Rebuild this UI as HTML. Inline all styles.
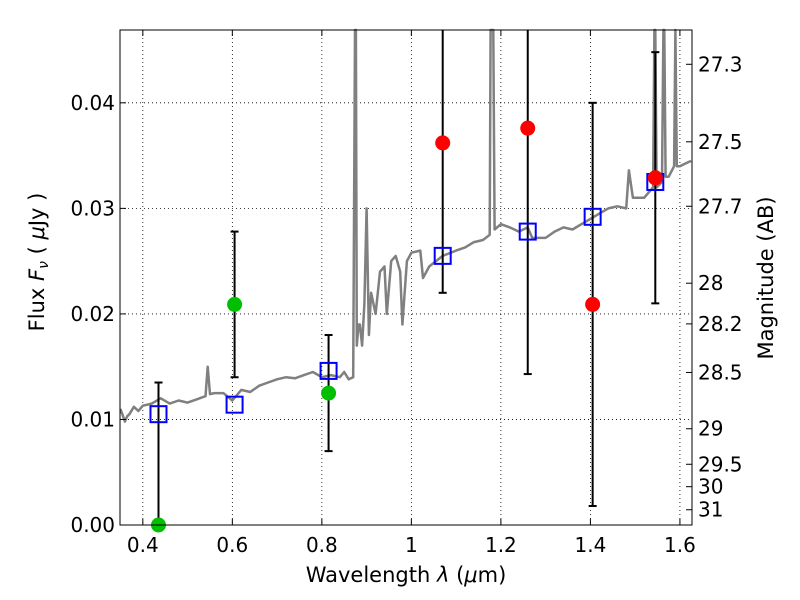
<!DOCTYPE html>
<html><head><meta charset="utf-8"><style>
html,body{margin:0;background:#fff;width:800px;height:600px;overflow:hidden;}
svg{display:block;}
svg text{font-family:"DejaVu Sans","Liberation Sans",sans-serif;}
</style></head><body>
<svg id="chart" width="800" height="600" xmlns="http://www.w3.org/2000/svg">
<text x="406" y="582" font-size="21" text-anchor="middle">Wavelength  <tspan font-style="italic">λ</tspan> (<tspan font-style="italic">μ</tspan>m)</text>
<text transform="translate(44,262) rotate(-90)" font-size="21" text-anchor="middle">Flux  <tspan font-style="italic">F</tspan><tspan font-style="italic" font-size="14" dy="4">ν</tspan><tspan dy="-4">  ( </tspan><tspan font-style="italic">μ</tspan>Jy )</text>
<text transform="translate(773,278) rotate(-90)" font-size="21" text-anchor="middle">Magnitude (AB)</text>
</svg>
<script>
const specW=[0.35,0.355,0.36,0.365,0.37,0.38,0.39,0.40,0.42,0.44,0.46,0.48,0.50,0.52,0.54,0.545,0.55,0.56,0.58,0.60,0.62,0.64,0.66,0.68,0.70,0.72,0.74,0.76,0.78,0.80,0.82,0.84,0.85,0.86,0.870,0.874,0.876,0.878,0.882,0.885,0.89,0.895,0.90,0.905,0.91,0.92,0.93,0.94,0.945,0.955,0.965,0.975,0.98,0.99,1.00,1.02,1.026,1.04,1.07,1.10,1.12,1.14,1.16,1.175,1.177,1.18,1.183,1.186,1.20,1.22,1.24,1.26,1.27,1.30,1.32,1.34,1.36,1.38,1.40,1.42,1.44,1.46,1.48,1.486,1.495,1.52,1.54,1.543,1.545,1.548,1.56,1.563,1.565,1.568,1.575,1.587,1.59,1.593,1.60,1.61,1.625];
const specF=[0.0110,0.0104,0.0098,0.0103,0.0105,0.0112,0.0108,0.0113,0.0115,0.0120,0.0115,0.0118,0.0116,0.0119,0.0122,0.0150,0.0124,0.0125,0.0125,0.0118,0.0128,0.0126,0.0132,0.0135,0.0138,0.0140,0.0139,0.0142,0.0145,0.0140,0.0142,0.0140,0.0145,0.0138,0.0140,0.0600,0.0600,0.0170,0.0190,0.0190,0.0170,0.0210,0.0300,0.0180,0.0220,0.0200,0.0240,0.0245,0.0200,0.0250,0.0255,0.0240,0.0190,0.0250,0.0258,0.0260,0.0234,0.0245,0.0255,0.0260,0.0263,0.0268,0.0270,0.0275,0.0600,0.0600,0.0600,0.0280,0.0285,0.0282,0.0278,0.0282,0.0272,0.0272,0.0278,0.0282,0.0280,0.0285,0.0290,0.0295,0.0300,0.0302,0.0300,0.0336,0.0310,0.0310,0.0320,0.0600,0.0600,0.0320,0.0325,0.0600,0.0600,0.0330,0.0330,0.0340,0.0600,0.0340,0.0340,0.0342,0.0345];
const bandW=[0.435,0.605,0.815,1.07,1.26,1.405,1.545];
const modelF=[0.0105,0.0114,0.0146,0.0255,0.0278,0.0292,0.0325];
const obsF=[0.0,0.0209,0.0125,0.0362,0.0376,0.0209,0.0329];
const obsErr=[0.0135,0.0069,0.0055,0.0142,0.0233,0.0191,0.0119];
const obsColor=['#00bf00','#00bf00','#00bf00','red','red','red','red'];
const xTicks=[0.4,0.6,0.8,1.0,1.2,1.4,1.6];
const xTickLabels=['0.4','0.6','0.8','1','1.2','1.4','1.6'];
const yTicks=[0,0.01,0.02,0.03,0.04];
const yTickLabels=['0.00','0.01','0.02','0.03','0.04'];
const magTicks=[27.3,27.5,27.7,28,28.2,28.5,29,29.5,30,31];

const L=120,R=692,T=30,B=525,XMIN=0.349,XMAX=1.627,YMIN=0,YMAX=0.0469;
const X=w=>L+(w-XMIN)/(XMAX-XMIN)*(R-L);
const Y=f=>B-(f-YMIN)/(YMAX-YMIN)*(B-T);
const Yc=f=>Math.max(T,Math.min(B,Y(f)));
const NS='http://www.w3.org/2000/svg';
const svg=document.getElementById('chart');
function mk(tag,attrs,parent){const e=document.createElementNS(NS,tag);for(const k in attrs)e.setAttribute(k,attrs[k]);(parent||svg).appendChild(e);return e;}

xTicks.forEach(v=>{const g=mk('line',{x1:X(v),x2:X(v),y1:T,y2:B,stroke:'#000','stroke-width':0.8,'stroke-dasharray':'1,3'});

});
yTicks.forEach(v=>{const g=mk('line',{x1:L,x2:R,y1:Y(v),y2:Y(v),stroke:'#000','stroke-width':0.8,'stroke-dasharray':'1,3'});

});

const plot=mk('g',{});


let d='';specW.forEach((w,i)=>{d+=(i?'L':'M')+X(w).toFixed(1)+','+Yc(specF[i]).toFixed(1);});
const sp=mk('path',{d:d,fill:'none',stroke:'#808080','stroke-width':2.5,'stroke-linejoin':'round'},plot);



bandW.forEach((w,i)=>{
  const x=X(w);
  const loV=obsF[i]-obsErr[i],hiV=obsF[i]+obsErr[i];
  const lo=Yc(loV),hi=Yc(hiV);
  const eb=mk('line',{x1:x,x2:x,y1:lo,y2:hi,stroke:'#000','stroke-width':2},plot);
  
  
  [[loV,lo],[hiV,hi]].forEach(p=>{ if(p[0]<YMIN||p[0]>YMAX) return;
  const c=mk('line',{x1:x-4,x2:x+4,y1:p[1],y2:p[1],stroke:'#000','stroke-width':2},plot);
  
  });
  const sq=mk('rect',{x:x-8,y:Y(modelF[i])-8,width:16,height:16,fill:'none',stroke:'#0000ff','stroke-width':2},plot);
  
  
  const dot=mk('circle',{cx:x,cy:Y(obsF[i]),r:7.5,fill:obsColor[i]},plot);
  
  
});

const fr=mk('rect',{x:L,y:T,width:R-L,height:B-T,fill:'none',stroke:'#000','stroke-width':1});



xTicks.forEach((v,i)=>{const x=X(v);
mk('line',{x1:x,x2:x,y1:B,y2:B-6,stroke:'#000'});mk('line',{x1:x,x2:x,y1:T,y2:T+6,stroke:'#000'});
const t=mk('text',{x:x,y:B+27,'font-size':20,'text-anchor':'middle'});t.textContent=xTickLabels[i];

});
yTicks.forEach((v,i)=>{const y=Y(v);
mk('line',{x1:L,x2:L+6,y1:y,y2:y,stroke:'#000'});
const t=mk('text',{x:L-5,y:y+7,'font-size':20,'text-anchor':'end'});t.textContent=yTickLabels[i];

});
magTicks.forEach(m=>{const f=Math.pow(10,(23.9-m)/2.5);const y=Y(f);
mk('line',{x1:R,x2:R-6,y1:y,y2:y,stroke:'#000'});
const t=mk('text',{x:R+6,y:y+7,'font-size':20});t.textContent=String(m);

});
</script>
</body></html>
